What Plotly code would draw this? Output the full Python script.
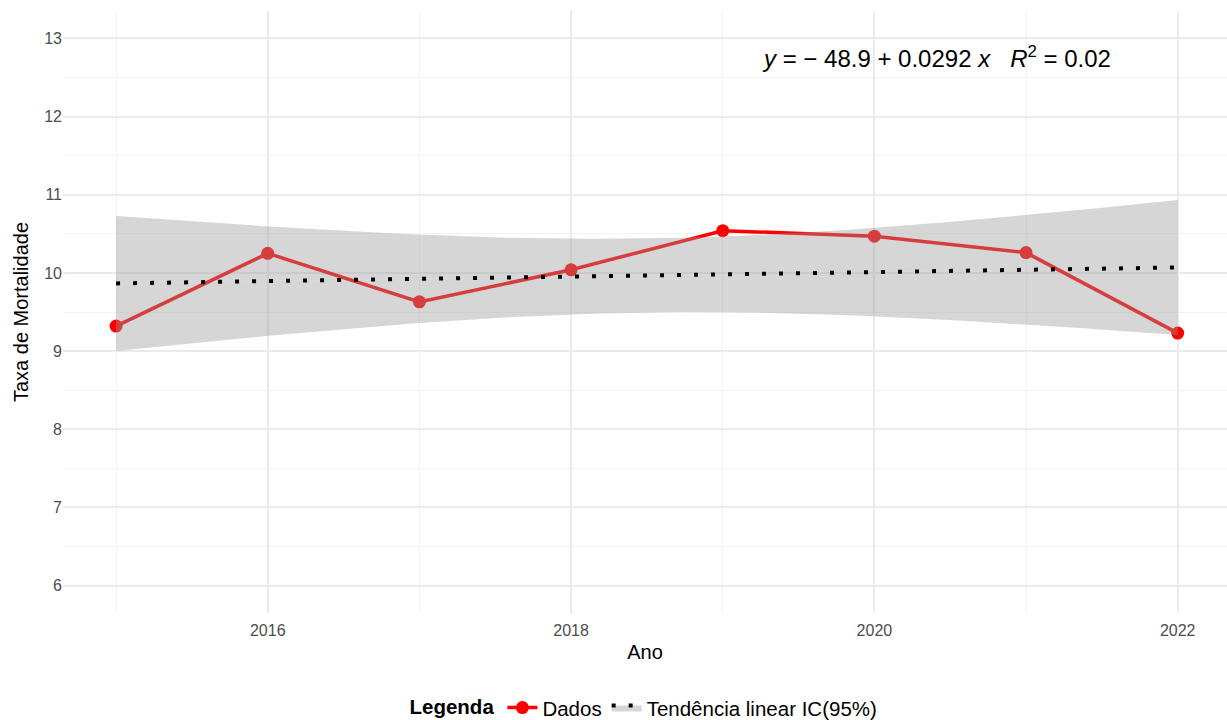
import numpy as np
import plotly.graph_objects as go

# Taxa de mortalidade anual
anos = [2015, 2016, 2017, 2018, 2019, 2020, 2021, 2022]
taxa = [9.32, 10.25, 9.63, 10.04, 10.54, 10.47, 10.26, 9.23]

x_ticks = [2016, 2018, 2020, 2022]
y_ticks = [6, 7, 8, 9, 10, 11, 12, 13]

equacao = "<i>y</i> = − 48.9 + 0.0292 <i>x</i>   <i>R</i><sup>2</sup> = 0.02"

# Ajuste linear e intervalo de confiança de 95% da média prevista
x = np.array(anos, dtype=float)
y = np.array(taxa, dtype=float)
n = len(x)
b, a = np.polyfit(x, y, 1)
resid = y - (a + b * x)
s = np.sqrt(np.sum(resid ** 2) / (n - 2))
sxx = np.sum((x - x.mean()) ** 2)
t_crit = 2.446912  # quantil t(0.975, gl = 6)

xg = np.linspace(x.min(), x.max(), 80)
yg = a + b * xg
se = s * np.sqrt(1 / n + (xg - x.mean()) ** 2 / sxx)
lower = yg - t_crit * se
upper = yg + t_crit * se

band_fill = "rgba(153,153,153,0.4)"
font_family = "Liberation Sans, Arial, sans-serif"

fig = go.Figure()

fig.add_trace(go.Scatter(
    x=anos, y=taxa, mode="lines+markers", name="Dados",
    line=dict(color="#FF0000", width=3.5),
    marker=dict(color="#FF0000", size=13),
))

fig.add_trace(go.Scatter(
    x=xg, y=lower, mode="lines", line=dict(width=0, color=band_fill),
    showlegend=False, legendgroup="tend", hoverinfo="skip",
))
fig.add_trace(go.Scatter(
    x=xg, y=yg, mode="lines", name="Tendência linear IC(95%)",
    fill="tonexty", fillcolor=band_fill, legendgroup="tend",
    line=dict(color="black", width=4, dash="4px,13px"),
))
fig.add_trace(go.Scatter(
    x=xg, y=upper, mode="lines", line=dict(width=0, color=band_fill),
    fill="tonexty", fillcolor=band_fill,
    showlegend=False, legendgroup="tend", hoverinfo="skip",
))

fig.add_annotation(
    x=2021.57, y=12.76, xref="x", yref="y", xanchor="right", yanchor="middle",
    text=equacao, showarrow=False,
    font=dict(family=font_family, size=24, color="black"),
)

fig.update_layout(
    width=1227, height=720,
    margin=dict(l=63, r=0, t=11, b=107),
    paper_bgcolor="white", plot_bgcolor="white",
    font=dict(family=font_family),
    showlegend=True,
    legend=dict(
        orientation="h", x=0.5, xanchor="center",
        yref="container", y=0.017, yanchor="middle",
        title=dict(text="<b>Legenda</b>", font=dict(size=20.5, color="black")),
        font=dict(size=20.5, color="black"),
    ),
    xaxis=dict(
        range=[2014.65, 2022.325],
        tickmode="array", tickvals=x_ticks, ticktext=[str(v) for v in x_ticks],
        showgrid=True, gridcolor="#EBEBEB", gridwidth=2,
        minor=dict(tickmode="array", tickvals=[2015, 2017, 2019, 2021],
                   showgrid=True, gridcolor="#F3F3F3", gridwidth=1),
        zeroline=False, showline=False, ticks="", ticklabelstandoff=6,
        tickfont=dict(size=16, color="#4D4D4D"),
        title=dict(text="Ano", font=dict(size=20, color="black"), standoff=6),
    ),
    yaxis=dict(
        range=[5.65, 13.35],
        tickmode="array", tickvals=y_ticks, ticktext=[str(v) for v in y_ticks],
        showgrid=True, gridcolor="#EBEBEB", gridwidth=2,
        minor=dict(tickmode="array", tickvals=[6.5, 7.5, 8.5, 9.5, 10.5, 11.5, 12.5],
                   showgrid=True, gridcolor="#F3F3F3", gridwidth=1),
        zeroline=False, showline=False, ticks="",
        tickfont=dict(size=16, color="#4D4D4D"),
        title=dict(text="Taxa de Mortalidade", font=dict(size=20, color="black"), standoff=10),
    ),
)

fig.write_html("out.html")
